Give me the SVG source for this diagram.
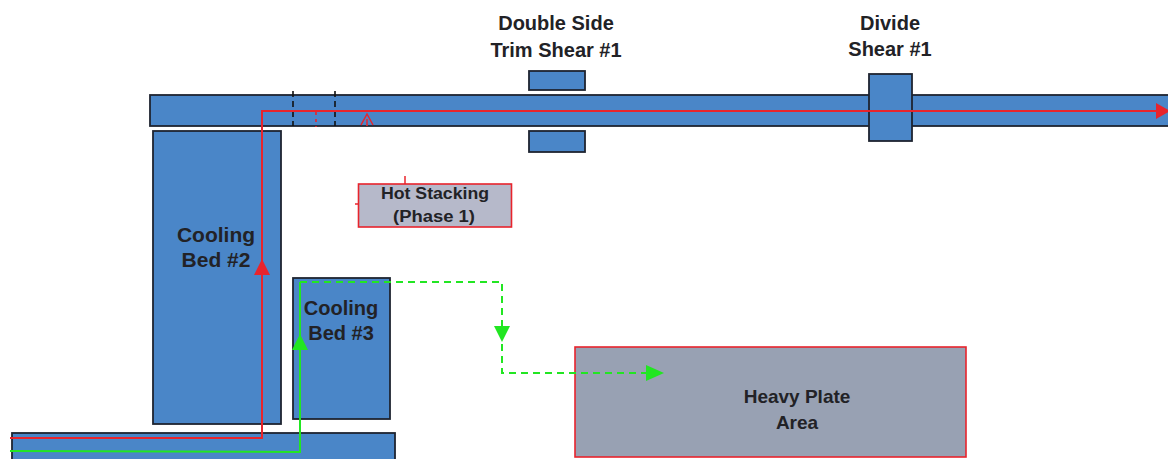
<svg xmlns="http://www.w3.org/2000/svg" width="1168" height="459" viewBox="0 0 1168 459">
  <defs>
    <style>
      .eq { fill: #4A86C8; stroke: #1E2430; stroke-width: 1.8; }
      .area { fill: #98A1B3; stroke: #E8242C; stroke-width: 1.6; }
      .lbl { font-family: "Liberation Sans", Arial, sans-serif; font-weight: bold; fill: #222226; text-anchor: middle; }
      .red { fill: none; stroke: #E8242C; stroke-width: 2; }
      .green { fill: none; stroke: #22E622; stroke-width: 2; }
      .gdash { stroke-dasharray: 7 5; }
    </style>
    <marker id="redArrow" markerWidth="14" markerHeight="16" refX="12" refY="8" orient="auto" markerUnits="userSpaceOnUse" viewBox="0 0 14 16">
      <path d="M0,0 L14,8 L0,16 z" fill="#E8242C"/>
    </marker>
    <marker id="greenArrow" markerWidth="18" markerHeight="16" refX="18" refY="8" orient="auto" markerUnits="userSpaceOnUse" viewBox="0 0 18 16">
      <path d="M0,0 L18,8 L0,16 z" fill="#22E622"/>
    </marker>
  </defs>

  <g id="top-conveyor">
    <rect class="eq" x="150" y="95" width="1030" height="31"/>
  </g>
  <g id="trim-shear">
    <rect class="eq" x="529" y="71" width="56" height="19"/>
    <rect class="eq" x="529" y="131" width="56" height="21"/>
    <text class="lbl" x="556" y="30" font-size="20">Double Side</text>
    <text class="lbl" x="556" y="57" font-size="20">Trim Shear #1</text>
  </g>
  <g id="divide-shear">
    <rect class="eq" x="869" y="74" width="43" height="67"/>
    <text class="lbl" x="890" y="30" font-size="20">Divide</text>
    <text class="lbl" x="890" y="56" font-size="20">Shear #1</text>
  </g>
  <g id="cooling-bed-2">
    <rect class="eq" x="153" y="131" width="128" height="293"/>
    <text class="lbl" x="216" y="242" font-size="21">Cooling</text>
    <text class="lbl" x="216" y="267" font-size="21">Bed #2</text>
  </g>
  <g id="cooling-bed-3">
    <rect class="eq" x="293" y="278" width="97" height="141"/>
    <text class="lbl" x="341" y="315" font-size="20">Cooling</text>
    <text class="lbl" x="341" y="340" font-size="20">Bed #3</text>
  </g>
  <g id="bottom-conveyor">
    <rect class="eq" x="12" y="433" width="383" height="40"/>
  </g>
  <g id="hot-stacking">
    <rect x="358.5" y="184" width="153" height="43" fill="#B6B9CA" stroke="#E8242C" stroke-width="1.6"/>
    <text class="lbl" x="435" y="199" font-size="16" textLength="108" lengthAdjust="spacingAndGlyphs">Hot Stacking</text>
    <text class="lbl" x="434" y="222" font-size="16" textLength="82" lengthAdjust="spacingAndGlyphs">(Phase 1)</text>
    <line x1="405" y1="176" x2="405" y2="184" stroke="#E8242C" stroke-width="1.5"/>
    <line x1="355" y1="204" x2="359" y2="204" stroke="#E8242C" stroke-width="1.5"/>
  </g>
  <g id="heavy-plate-area">
    <rect class="area" x="575" y="347" width="391" height="110"/>
    <text class="lbl" x="797" y="403" font-size="19">Heavy Plate</text>
    <text class="lbl" x="797" y="429" font-size="19">Area</text>
  </g>

  <g id="connectors">
    <line x1="293" y1="91" x2="293" y2="126" stroke="#111" stroke-width="1.6" stroke-dasharray="6 4"/>
    <line x1="335" y1="91" x2="335" y2="126" stroke="#111" stroke-width="1.6" stroke-dasharray="6 4"/>
    <line x1="316" y1="112" x2="316" y2="127" stroke="#E8242C" stroke-width="1.6" stroke-dasharray="3 4"/>
    <path d="M361,125 L367,114 L373,125" fill="none" stroke="#E8242C" stroke-width="1.5"/>
    <line x1="367" y1="119" x2="367" y2="126" stroke="#E8242C" stroke-width="1.5"/>

    <polyline class="red" points="10,438 262,438 262,111 1168,111" marker-end="url(#redArrow)"/>
    <path d="M262,259 L270,275 L254,275 z" fill="#E8242C"/>

    <polyline class="green" points="10,451 300,452 300,282"/>
    <path d="M300,334 L308,350 L292,350 z" fill="#22E622"/>
    <polyline class="green gdash" points="300,282 502,282 502,373 664,373" marker-end="url(#greenArrow)"/>
    <path d="M502,342 L494,326 L510,326 z" fill="#22E622"/>
  </g>
</svg>
